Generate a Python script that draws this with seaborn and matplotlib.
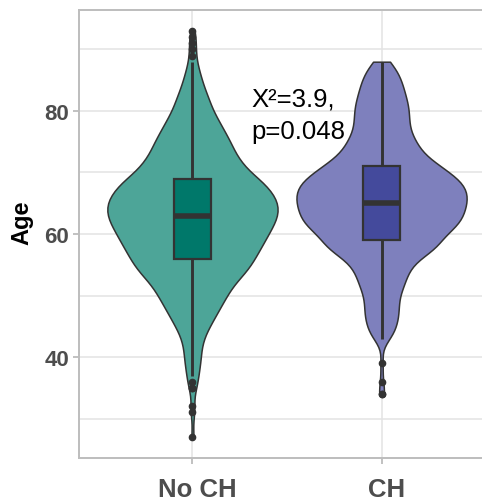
import numpy as np
import pandas as pd
import matplotlib
matplotlib.use("Agg")
import matplotlib.pyplot as plt
import matplotlib.transforms as mtransforms
import seaborn as sns

# ---- data (age values and how many patients at each) ----
groups = ["No CH", "CH"]

noch_age = [27, 31, 32, 35, 36, 37, 38, 39, 40, 41, 42, 43, 44, 45, 46, 47, 48, 49, 50,
            51, 52, 53, 54, 55, 56, 57, 58, 59, 60, 61, 62, 63, 64, 65, 66, 67, 68, 69, 70,
            71, 72, 73, 74, 75, 76, 77, 78, 79, 80, 81, 82, 83, 84, 85, 86, 87, 88, 89, 90,
            91, 92, 93]
noch_count = [1, 1, 1, 2, 1, 2, 2, 2, 3, 2, 3, 3, 4, 5, 6, 7, 8, 9, 10,
              11, 12, 14, 16, 17, 18, 19, 20, 21, 22, 23, 24, 25, 25, 25, 24, 23, 21, 20, 16,
              15, 14, 12, 12, 11, 10, 9, 8, 7, 6, 5, 5, 4, 3, 3, 2, 2, 1, 1, 1,
              1, 1, 1]

ch_age = [34, 36, 39, 43, 44, 45, 46, 47, 48, 49, 50, 51, 52, 53, 54, 55, 56, 57, 58,
          59, 60, 61, 62, 63, 64, 65, 66, 67, 68, 69, 70, 71, 72, 73, 74, 75, 76, 77, 78,
          79, 80, 81, 82, 83, 84, 85, 86, 87, 88]
ch_count = [2, 1, 1, 3, 4, 4, 5, 5, 5, 5, 5, 6, 7, 7, 8, 9, 10, 15, 17,
            17, 18, 22, 23, 24, 24, 25, 25, 25, 24, 23, 19, 18, 14, 12, 11, 10, 9, 8, 8,
            8, 8, 8, 7, 7, 6, 6, 5, 4, 3]

violin_colors = ["#4DA598", "#7E80BD"]
box_colors = ["#00786A", "#444A9C"]
yticks = [40, 60, 80]
annotation = "X\u00b2=3.9,\np=0.048"

df = pd.DataFrame({
    "group": np.repeat(groups, [sum(noch_count), sum(ch_count)]),
    "age": np.concatenate([np.repeat(noch_age, noch_count), np.repeat(ch_age, ch_count)]),
})

# ---- figure ----
fig = plt.figure(figsize=(4.82, 5.02), dpi=100)
ax = fig.add_axes([79 / 482, 43 / 502, 416 / 482, 448 / 502])

sns.violinplot(data=df, x="group", y="age", hue="group", order=groups, hue_order=groups,
               palette=violin_colors, saturation=1, cut=0, inner=None, width=0.9,
               density_norm="width", bw_adjust=0.5, linewidth=1.1, linecolor="#333333",
               legend=False, ax=ax)

sns.boxplot(data=df, x="group", y="age", hue="group", order=groups, hue_order=groups,
            palette=box_colors, saturation=1, width=0.2, linewidth=1.6, linecolor="#333333",
            showcaps=False, legend=False, ax=ax,
            medianprops=dict(linewidth=4.0, color="#333333"),
            whiskerprops=dict(linewidth=2.1, color="#333333"),
            flierprops=dict(marker="o", markersize=4.5, markerfacecolor="#333333",
                            markeredgecolor="#333333"))

ax.set_xlim(-0.6, 1.6)
ax.set_ylim(23.6, 96.4)
ax.set_yticks(yticks)
ax.set_yticks([30, 50, 70, 90], minor=True)
ax.grid(True, which="both", color="#E3E3E3", linewidth=1.1)
ax.set_axisbelow(True)
ax.tick_params(axis="y", which="minor", length=0)
ax.tick_params(axis="both", which="major", colors="#B0B0B0", length=4, width=1.1,
               labelcolor="#4D4D4D")
ax.tick_params(axis="y", which="major", labelsize=16, pad=3)
ax.tick_params(axis="x", which="major", labelsize=18.5, pad=9.5)

shift = mtransforms.ScaledTranslation(5 / 100, 0, fig.dpi_scale_trans)
for lab in ax.get_xticklabels():
    lab.set_transform(lab.get_transform() + shift)

for lab in ax.get_xticklabels() + ax.get_yticklabels():
    lab.set_fontweight("bold")
    lab.set_family(["Liberation Sans", "DejaVu Sans"])

for s in ax.spines.values():
    s.set_color("#BDBDBD")
    s.set_linewidth(1.4)

ax.set_xlabel("")
ax.set_ylabel("Age", fontsize=17, fontweight="bold", color="black",
              family=["Liberation Sans", "DejaVu Sans"])
ax.yaxis.set_label_coords(-0.11, 0.527)

ax.text(0.31, 84.0, annotation, ha="left", va="top", fontsize=18.5, color="black",
        family=["Liberation Sans", "DejaVu Sans"], linespacing=1.45)

fig.savefig("out.png", dpi=100)
